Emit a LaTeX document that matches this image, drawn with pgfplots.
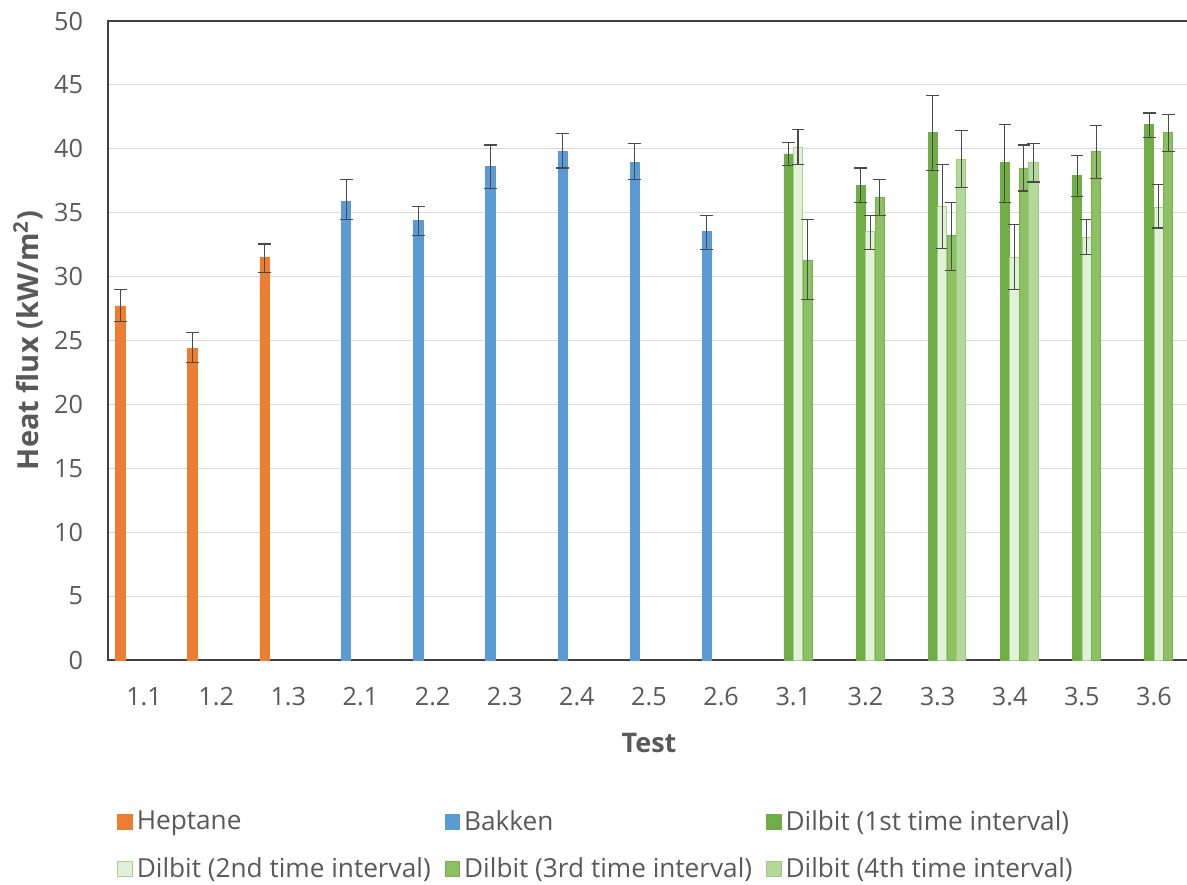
\documentclass[border=0pt]{standalone}
\usepackage{fontspec}
\setmainfont{Open Sans}
\usepackage{pgfplots}
\pgfplotsset{compat=1.18}
\usepackage{pgfplotstable}
\definecolor{hep}{HTML}{ED7D31}
\definecolor{bak}{HTML}{5B9BD5}
\definecolor{dOne}{HTML}{70AD47}
\definecolor{dTwo}{HTML}{E2F0D9}
\definecolor{dTwoE}{HTML}{A9D18E}
\definecolor{dThree}{HTML}{8DC063}
\definecolor{dThreeE}{HTML}{78B24F}
\definecolor{dFour}{HTML}{B4D79B}
\definecolor{dFourE}{HTML}{9CCB7C}
\definecolor{txt}{HTML}{595959}
\definecolor{grd}{HTML}{D9D9D9}
\definecolor{eb}{HTML}{4A4A4A}

\pgfplotstableread{
x y ep em
0 27.7 1.3 1.2
1 24.4 1.2 1.1
2 31.5 1.05 1.2
}\hep
\pgfplotstableread{
x y ep em
3 35.9 1.7 1.4
4 34.4 1.1 1.2
5 38.6 1.7 1.7
6 39.8 1.4 1.3
7 38.9 1.5 1.3
8 33.5 1.3 1.4
}\bak
\pgfplotstableread{
x y ep em
9 39.6 0.9 0.9
10 37.1 1.4 1.3
11 41.3 2.9 3.0
12 38.9 3.0 3.1
13 37.9 1.6 1.6
14 41.9 0.9 1.0
}\dA
\pgfplotstableread{
x y ep em
9 40.1 1.4 1.3
10 33.5 1.3 1.4
11 35.5 3.3 3.3
12 31.5 2.6 2.5
13 33.1 1.4 1.4
14 35.4 1.8 1.6
}\dB
\pgfplotstableread{
x y ep em
9 31.3 3.2 3.1
10 36.2 1.4 1.4
11 33.2 2.6 2.7
12 38.5 1.8 1.8
13 39.8 2.05 2.1
14 41.3 1.35 1.5
}\dC
\pgfplotstableread{
x y ep em
11 39.2 2.2 2.2
12 38.9 1.5 1.5
}\dD

\begin{document}
\begin{tikzpicture}
\useasboundingbox (-54pt,-112pt) rectangle (539.5pt,330pt);
\begin{axis}[
  at={(0,0)}, anchor=south west,
  scale only axis,
  width=541pt, height=319.5pt,
  ybar=0.15pt, bar width=4.6pt,
  xmin=-0.5, xmax=14.5,
  ymin=0, ymax=50,
  ytick={0,5,...,50},
  xtick={0,...,14},
  xticklabels={1.1,1.2,1.3,2.1,2.2,2.3,2.4,2.5,2.6,3.1,3.2,3.3,3.4,3.5,3.6},
  major tick length=0pt,
  ymajorgrids, grid style={grd, line width=0.5pt},
  axis line style={draw=black!75, line width=0.6pt},
  /pgf/number format/assume math mode=true,
  tick label style={font=\fontsize{12.6}{14}\selectfont, text=txt},
  yticklabel style={xshift=-9pt},
  xticklabel style={yshift=-10pt},
  xlabel={Test},
  ylabel={Heat flux (kW/m\textsuperscript{2})},
  xlabel style={font=\bfseries\fontsize{13.5}{15}\selectfont, text=txt,
    at={(axis description cs:0.5,0)}, anchor=center, yshift=-41.5pt},
  ylabel style={font=\bfseries\fontsize{14.5}{16}\selectfont, text=txt,
    at={(axis description cs:-0.0739,0.5)}, anchor=center},
  legend columns=3,
  legend cell align=left,
  legend image code/.code={\draw[#1, line width=0.4pt] (0pt,-3.6pt) rectangle (7.3pt,3.6pt);},
  legend style={draw=none, fill=none, at={(rel axis cs:0,0)}, anchor=north west,
    xshift=4.5pt, yshift=-73pt, inner sep=0pt,
    font=\fontsize{13.1}{14}\selectfont, text=txt,
    row sep=8pt,
    /tikz/every even column/.append style={column sep=5pt}},
  error bars/y dir=both,
  error bars/y explicit,
  error bars/error bar style={eb, line width=0.55pt},
  error bars/error mark options={eb, line width=0.55pt, rotate=90, mark size=3.2pt},
]
\addplot[fill=hep, draw=hep] table[x=x,y=y,y error plus=ep,y error minus=em]{\hep};
\addlegendentry{Heptane}
\addplot[fill=bak, draw=bak] table[x=x,y=y,y error plus=ep,y error minus=em]{\bak};
\addlegendentry{Bakken}
\addplot[fill=dOne, draw=dOne] table[x=x,y=y,y error plus=ep,y error minus=em]{\dA};
\addlegendentry{Dilbit (1st time interval)}
\addplot[fill=dTwo, draw=dTwoE] table[x=x,y=y,y error plus=ep,y error minus=em]{\dB};
\addlegendentry{Dilbit (2nd time interval)}
\addplot[fill=dThree, draw=dThreeE] table[x=x,y=y,y error plus=ep,y error minus=em]{\dC};
\addlegendentry{Dilbit (3rd time interval)}
\addplot[fill=dFour, draw=dFourE] table[x=x,y=y,y error plus=ep,y error minus=em]{\dD};
\addlegendentry{Dilbit (4th time interval)}
\end{axis}
\end{tikzpicture}
\end{document}
